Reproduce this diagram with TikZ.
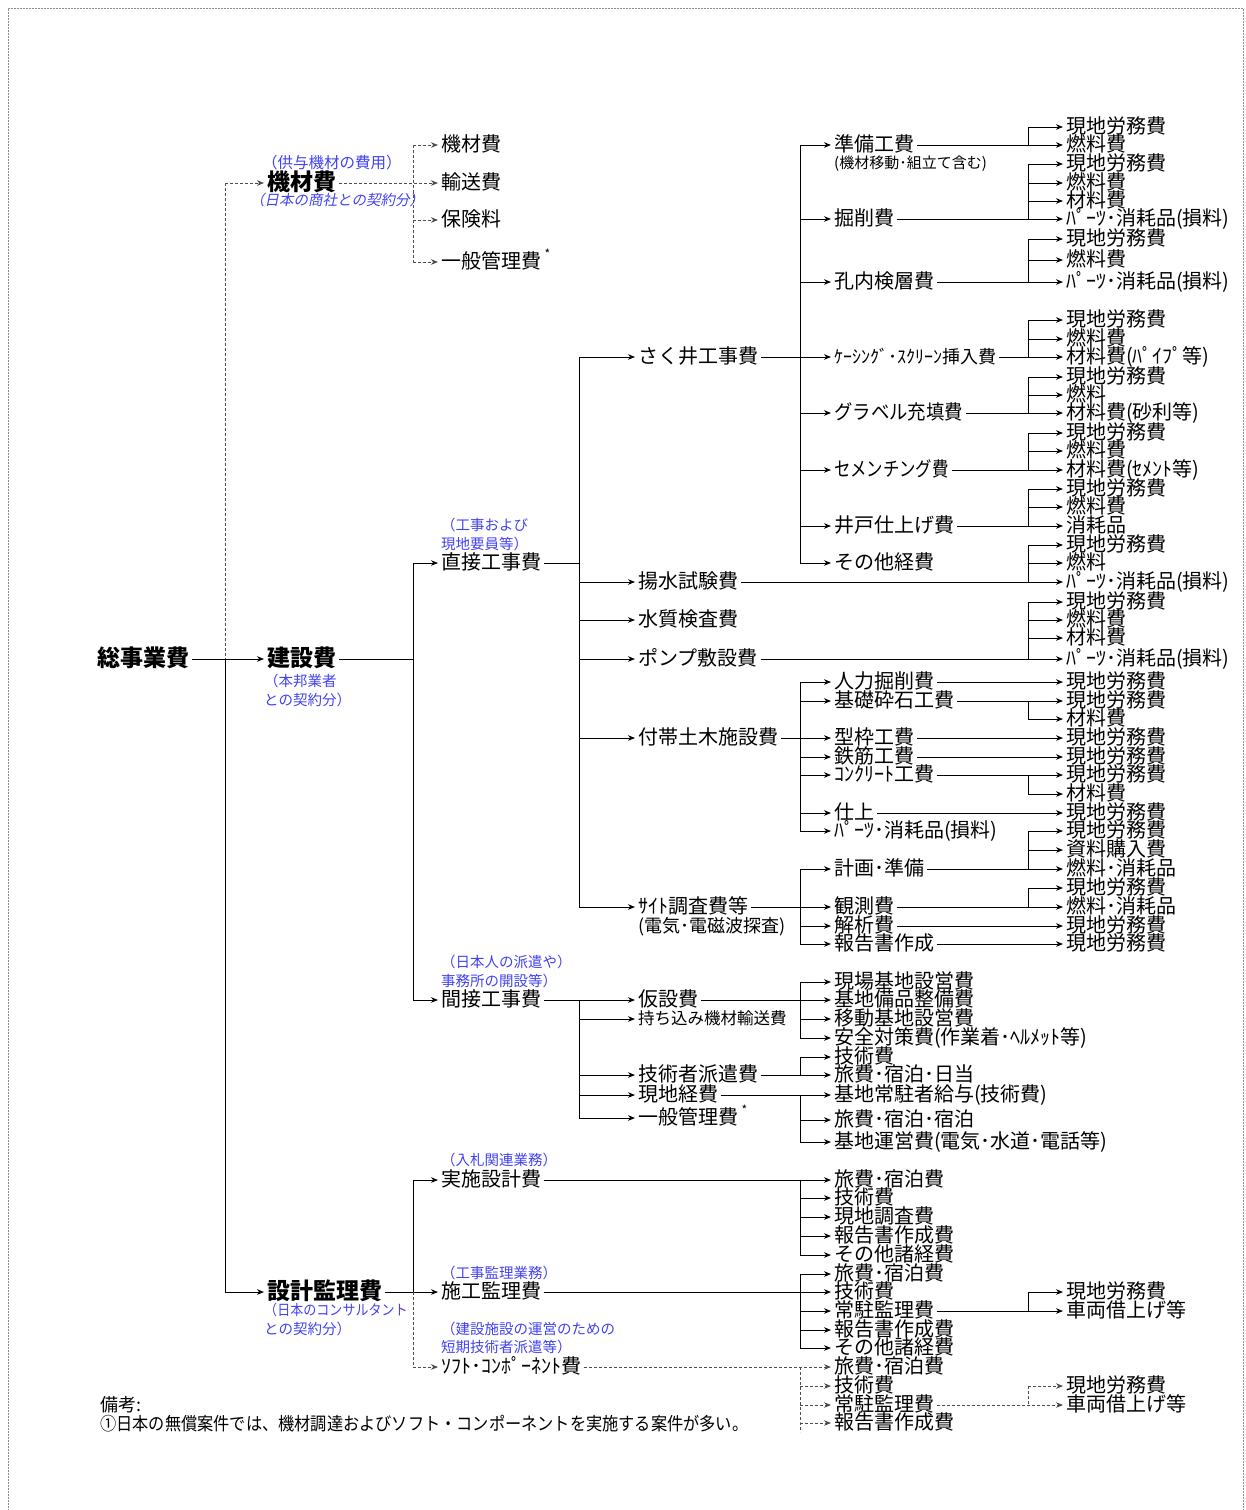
\documentclass[tikz,border=0pt]{standalone}
\usepackage{fontspec}
\setmainfont{Noto Sans CJK JP}
\newfontfamily\slantjp{Noto Sans CJK JP}[FakeSlant=0.2]
\usetikzlibrary{arrows.meta}
\definecolor{bluetxt}{RGB}{66,66,240}
\newcommand\busarrow[3][]{\draw[arr,#1] (#2 |- #3.west) -- (#3.west);}
\newcommand\busline[4][]{\draw[ln,#1] (#2 |- #3.west) -- (#2 |- #4.west);}
\newcommand\astr{\,\raisebox{0.5em}{\fontsize{12}{12}\selectfont *}}
\begin{document}
\begin{tikzpicture}[x=1pt,y=-1pt,
 fsz/.style={font=\fontsize{#1}{#1}\selectfont, text height=0.84*#1pt, text depth=0.16*#1pt},
 base/.style={anchor=west, inner xsep=3pt, inner ysep=0pt, text=black},
 lab/.style={base, fsz=20},
 blab/.style={base, fsz=23, font=\fontsize{23}{23}\selectfont\bfseries, text=black},
 bnote/.style={anchor=west, inner sep=0pt, fsz=14.5, text=bluetxt},
 ln/.style={line width=0.9pt, draw=black},
 arr/.style={ln, -{Stealth[length=7pt,width=5.5pt,inset=2.2pt]}},
 dsh/.style={dash pattern=on 3pt off 2pt, draw=black!70},
]
\useasboundingbox (0,0) rectangle (1245,1510);
\draw[black!45, dash pattern=on 2pt off 1pt, line width=1pt] (8,1520) -- (8,8) -- (1243,8) -- (1243,1520);

\coordinate (A) at (225,0);
\coordinate (B) at (413,0);
\coordinate (C) at (579,0);
\coordinate (D) at (800,0);
\coordinate (E) at (1028,0);

% ---------- level 0 ----------
\node[blab] (total) at (94,659) {総事業費};
\node[blab] (kizai) at (264,183) {機材費};
\node[blab] (kensetsu) at (264,659) {建設費};
\node[blab] (sekkei) at (264,1292) {設計監理費};

% ---------- blue notes ----------
\node[bnote, fsz=15.5] (nk1) at (262,163) {（供与機材の費用）};
\node[bnote, font=\fontsize{14.5}{14.5}\selectfont\slantjp] (nk2) at (250,201) {（日本の商社との契約分）};
\node[bnote] (nc1) at (264,682) {（本邦業者};
\node[bnote] (nc2) at (264,701) {との契約分）};
\node[bnote] (ns1) at (264,1311) {\scalebox{0.9}[1]{（日本のコンサルタント}};
\node[bnote] (ns2) at (264,1330) {との契約分）};
\node[bnote] (nd1) at (441,526) {（工事および};
\node[bnote] (nd2) at (441,545) {現地要員等）};
\node[bnote] (ni1) at (441,963) {（日本人の派遣や）};
\node[bnote] (ni2) at (441,982) {事務所の開設等）};
\node[bnote] (nj1) at (441,1161) {（入札関連業務）};
\node[bnote] (nse1) at (441,1274) {（工事監理業務）};
\node[bnote] (nso1) at (441,1330) {（建設施設の運営のための};
\node[bnote] (nso2) at (441,1348) {短期技術者派遣等）};

% ---------- level 1 ----------
\node[lab] (k1) at (438,145) {機材費};
\node[lab] (k2) at (438,183) {輸送費};
\node[lab] (k3) at (438,220) {保険料};
\node[lab] (k4) at (438,262) {一般管理費\astr};
\node[lab] (direct) at (438,563) {直接工事費};
\node[lab] (indirect) at (438,1000) {間接工事費};
\node[lab] (jisshi) at (438,1180) {実施設計費};
\node[lab] (sekou) at (438,1292) {施工監理費};
\node[lab] (soft) at (438,1367) {ｿﾌﾄ･ｺﾝﾎﾟｰﾈﾝﾄ費};

% ---------- level 2 ----------
\node[lab] (sakui) at (635,357) {さく井工事費};
\node[lab] (yousui) at (635,582) {揚水試験費};
\node[lab] (suishitsu) at (635,620) {水質検査費};
\node[lab] (pump) at (635,659) {ポンプ敷設費};
\node[lab] (futai) at (635,738) {付帯土木施設費};
\node[lab] (site) at (635,907) {ｻｲﾄ調査費等};
\node[base, fsz=18] (sitesub) at (635,926) {(電気･電磁波探査)};
\node[lab] (kasetsu) at (635,1000) {仮設費};
\node[base, fsz=16.5] (mochikomi) at (635,1019) {持ち込み機材輸送費};
\node[lab] (gijutsu) at (635,1075) {技術者派遣費};
\node[lab] (genchi) at (635,1095) {現地経費};
\node[lab] (ippan) at (635,1118) {一般管理費\astr};

% ---------- level 3 ----------
\node[lab] (junbi) at (831,145) {準備工費};
\node[base, fsz=15] (junbisub) at (831,163) {(機材移動･組立て含む)};
\node[lab] (kussaku) at (831,219) {掘削費};
\node[lab] (kounai) at (831,282) {孔内検層費};
\node[base, fsz=18] (casing) at (831,357) {ｹｰｼﾝｸﾞ･ｽｸﾘｰﾝ挿入費};
\node[lab] (gravel) at (831,413) {\scalebox{0.92}[1]{グラベル充填費}};
\node[lab] (cement) at (831,470) {\scalebox{0.82}[1]{セメンチング費}};
\node[lab] (ido) at (831,526) {井戸仕上げ費};
\node[lab] (sonota) at (831,563) {その他経費};

\node[lab] (jinryoku) at (831,682) {人力掘削費};
\node[lab] (kiso) at (831,701) {基礎砕石工費};
\node[lab] (katawaku) at (831,738) {型枠工費};
\node[lab] (tekkin) at (831,757) {鉄筋工費};
\node[lab] (concrete) at (831,775) {ｺﾝｸﾘｰﾄ工費};
\node[lab] (shiage) at (831,813) {仕上};
\node[lab] (parts) at (831,831) {ﾊﾟｰﾂ･消耗品(損料)};

\node[lab] (keikaku) at (831,869) {計画･準備};
\node[lab] (kansoku) at (831,907) {観測費};
\node[lab] (kaiseki) at (831,926) {解析費};
\node[lab] (houkoku) at (831,944) {報告書作成};

\node[lab] (genba) at (831,982) {現場基地設営費};
\node[lab] (bihin) at (831,1000) {基地備品整備費};
\node[lab] (idou) at (831,1019) {移動基地設営費};
\node[lab] (anzen) at (831,1038) {安全対策費(作業着･ﾍﾙﾒｯﾄ等)};
\node[lab] (gijutsuhi) at (831,1057) {技術費};
\node[lab] (ryohi1) at (831,1075) {旅費･宿泊･日当};
\node[lab] (kyuyo) at (831,1095) {基地常駐者給与(技術費)};
\node[lab] (ryohi2) at (831,1120) {旅費･宿泊･宿泊};
\node[lab] (unei) at (831,1142) {基地運営費(電気･水道･電話等)};

\node[lab] (j1) at (831,1180) {旅費･宿泊費};
\node[lab] (j2) at (831,1198) {技術費};
\node[lab] (j3) at (831,1217) {現地調査費};
\node[lab] (j4) at (831,1236) {報告書作成費};
\node[lab] (j5) at (831,1255) {その他諸経費};

\node[lab] (s1) at (831,1274) {旅費･宿泊費};
\node[lab] (s2) at (831,1292) {技術費};
\node[lab] (s3) at (831,1311) {常駐監理費};
\node[lab] (s4) at (831,1330) {報告書作成費};
\node[lab] (s5) at (831,1348) {その他諸経費};

\node[lab] (f1) at (831,1367) {旅費･宿泊費};
\node[lab] (f2) at (831,1386) {技術費};
\node[lab] (f3) at (831,1405) {常駐監理費};
\node[lab] (f4) at (831,1423) {報告書作成費};

% ---------- leaves ----------
\node[lab] (L1) at (1063,127) {現地労務費};
\node[lab] (L2) at (1063,145) {燃料費};
\node[lab] (L3) at (1063,164) {現地労務費};
\node[lab] (L4) at (1063,183) {燃料費};
\node[lab] (L5) at (1063,201) {材料費};
\node[lab] (L6) at (1063,219) {ﾊﾟｰﾂ･消耗品(損料)};
\node[lab] (L7) at (1063,239) {現地労務費};
\node[lab] (L8) at (1063,260) {燃料費};
\node[lab] (L9) at (1063,282) {ﾊﾟｰﾂ･消耗品(損料)};
\node[lab] (L10) at (1063,320) {現地労務費};
\node[lab] (L11) at (1063,339) {燃料費};
\node[lab] (L12) at (1063,357) {材料費(ﾊﾟｲﾌﾟ等)};
\node[lab] (L13) at (1063,377) {現地労務費};
\node[lab] (L14) at (1063,395) {燃料};
\node[lab] (L15) at (1063,413) {材料費(砂利等)};
\node[lab] (L16) at (1063,433) {現地労務費};
\node[lab] (L17) at (1063,451) {燃料費};
\node[lab] (L18) at (1063,470) {材料費(ｾﾒﾝﾄ等)};
\node[lab] (L19) at (1063,489) {現地労務費};
\node[lab] (L20) at (1063,507) {燃料費};
\node[lab] (L21) at (1063,526) {消耗品};
\node[lab] (L22) at (1063,545) {現地労務費};
\node[lab] (L23) at (1063,563) {燃料};
\node[lab] (L24) at (1063,582) {ﾊﾟｰﾂ･消耗品(損料)};
\node[lab] (L25) at (1063,602) {現地労務費};
\node[lab] (L26) at (1063,620) {燃料費};
\node[lab] (L27) at (1063,638) {材料費};
\node[lab] (L28) at (1063,659) {ﾊﾟｰﾂ･消耗品(損料)};
\node[lab] (L29) at (1063,682) {現地労務費};
\node[lab] (L30) at (1063,701) {現地労務費};
\node[lab] (L31) at (1063,719) {材料費};
\node[lab] (L32) at (1063,738) {現地労務費};
\node[lab] (L33) at (1063,757) {現地労務費};
\node[lab] (L34) at (1063,775) {現地労務費};
\node[lab] (L35) at (1063,794) {材料費};
\node[lab] (L36) at (1063,813) {現地労務費};
\node[lab] (L37) at (1063,831) {現地労務費};
\node[lab] (L38) at (1063,850) {資料購入費};
\node[lab] (L39) at (1063,869) {燃料･消耗品};
\node[lab] (L40) at (1063,888) {現地労務費};
\node[lab] (L41) at (1063,907) {燃料･消耗品};
\node[lab] (L42) at (1063,926) {現地労務費};
\node[lab] (L43) at (1063,944) {現地労務費};
\node[lab] (R1) at (1063,1292) {現地労務費};
\node[lab] (R2) at (1063,1311) {車両借上げ等};
\node[lab] (R3) at (1063,1386) {現地労務費};
\node[lab] (R4) at (1063,1405) {車両借上げ等};

% ---------- remarks ----------
\node[base, fsz=18, inner xsep=0pt] (biko) at (100,1405) {備考:};
\node[base, fsz=18, inner xsep=0pt] (note1) at (100,1424) {\scalebox{0.9}[1]{①日本の無償案件では、機材調達およびソフト・コンポーネントを実施する案件が多い。}};

% ---------- connectors: level 0 ----------
\draw[arr] (total.east) -- (kensetsu.west);
\draw[ln,dsh] (A |- kizai.west) -- (A |- kensetsu.west);
\draw[ln] (A |- kensetsu.west) -- (A |- sekkei.west);
\draw[arr,dsh] (A |- kizai.west) -- (kizai.west);
\draw[arr] (A |- sekkei.west) -- (sekkei.west);

% kizai
\draw[arr,dsh] (kizai.east) -- (k2.west);
\busline[dsh]{B}{k1}{k4}
\busarrow[dsh]{B}{k1}
\busarrow[dsh]{B}{k3}
\busarrow[dsh]{B}{k4}

% kensetsu
\draw[ln] (kensetsu.east) -- (B |- kensetsu.east);
\busline{B}{direct}{indirect}
\busarrow{B}{direct}
\busarrow{B}{indirect}

% sekkei
\draw[arr] (sekkei.east) -- (sekou.west);
\busline{B}{jisshi}{sekou}
\busline[dsh]{B}{sekou}{soft}
\busarrow{B}{jisshi}
\busarrow[dsh]{B}{soft}

% direct
\draw[ln] (direct.east) -- (C |- direct.east);
\busline{C}{sakui}{site}
\busarrow{C}{sakui}
\busarrow{C}{yousui}
\busarrow{C}{suishitsu}
\busarrow{C}{pump}
\busarrow{C}{futai}
\busarrow{C}{site}

% indirect
\draw[arr] (indirect.east) -- (kasetsu.west);
\busline{C}{kasetsu}{ippan}
\busarrow{C}{mochikomi}
\busarrow{C}{gijutsu}
\busarrow{C}{genchi}
\busarrow{C}{ippan}

% sakui
\draw[arr] (sakui.east) -- (casing.west);
\busline{D}{junbi}{sonota}
\busarrow{D}{junbi}
\busarrow{D}{kussaku}
\busarrow{D}{kounai}
\busarrow{D}{gravel}
\busarrow{D}{cement}
\busarrow{D}{ido}
\busarrow{D}{sonota}

% yousui, pump
\draw[arr] (yousui.east) -- (L24.west);
\busline{E}{L22}{L24}
\busarrow{E}{L22}
\busarrow{E}{L23}
\draw[arr] (pump.east) -- (L28.west);
\busline{E}{L25}{L28}
\busarrow{E}{L25}
\busarrow{E}{L26}
\busarrow{E}{L27}

% futai
\draw[arr] (futai.east) -- (katawaku.west);
\busline{D}{jinryoku}{parts}
\busarrow{D}{jinryoku}
\busarrow{D}{kiso}
\busarrow{D}{tekkin}
\busarrow{D}{concrete}
\busarrow{D}{shiage}
\busarrow{D}{parts}

% site
\draw[arr] (site.east) -- (kansoku.west);
\busline{D}{keikaku}{houkoku}
\busarrow{D}{keikaku}
\busarrow{D}{kaiseki}
\busarrow{D}{houkoku}

% kasetsu, gijutsu, genchi
\draw[arr] (kasetsu.east) -- (bihin.west);
\busline{D}{genba}{anzen}
\busarrow{D}{genba}
\busarrow{D}{idou}
\busarrow{D}{anzen}
\draw[arr] (gijutsu.east) -- (ryohi1.west);
\busline{D}{gijutsuhi}{ryohi1}
\busarrow{D}{gijutsuhi}
\draw[arr] (genchi.east) -- (kyuyo.west);
\busline{D}{kyuyo}{unei}
\busarrow{D}{ryohi2}
\busarrow{D}{unei}

% jisshi, sekou, soft
\draw[arr] (jisshi.east) -- (j1.west);
\busline{D}{j1}{j5}
\busarrow{D}{j2}
\busarrow{D}{j3}
\busarrow{D}{j4}
\busarrow{D}{j5}
\draw[arr] (sekou.east) -- (s2.west);
\busline{D}{s1}{s5}
\busarrow{D}{s1}
\busarrow{D}{s3}
\busarrow{D}{s4}
\busarrow{D}{s5}
\draw[arr,dsh] (soft.east) -- (f1.west);
\draw[ln,dsh] (D |- f1.west) -- (D |- f4.west) -- ++(0,9);
\busarrow[dsh]{D}{f2}
\busarrow[dsh]{D}{f3}
\busarrow[dsh]{D}{f4}

% leaves of level 3
\draw[arr] (junbi.east) -- (L2.west);
\busline{E}{L1}{L2}
\busarrow{E}{L1}
\draw[arr] (kussaku.east) -- (L6.west);
\busline{E}{L3}{L6}
\busarrow{E}{L3}
\busarrow{E}{L4}
\busarrow{E}{L5}
\draw[arr] (kounai.east) -- (L9.west);
\busline{E}{L7}{L9}
\busarrow{E}{L7}
\busarrow{E}{L8}
\draw[arr] (casing.east) -- (L12.west);
\busline{E}{L10}{L12}
\busarrow{E}{L10}
\busarrow{E}{L11}
\draw[arr] (gravel.east) -- (L15.west);
\busline{E}{L13}{L15}
\busarrow{E}{L13}
\busarrow{E}{L14}
\draw[arr] (cement.east) -- (L18.west);
\busline{E}{L16}{L18}
\busarrow{E}{L16}
\busarrow{E}{L17}
\draw[arr] (ido.east) -- (L21.west);
\busline{E}{L19}{L21}
\busarrow{E}{L19}
\busarrow{E}{L20}

\draw[arr] (jinryoku.east) -- (L29.west);
\draw[arr] (kiso.east) -- (L30.west);
\busline{E}{L30}{L31}
\busarrow{E}{L31}
\draw[arr] (katawaku.east) -- (L32.west);
\draw[arr] (tekkin.east) -- (L33.west);
\draw[arr] (concrete.east) -- (L34.west);
\busline{E}{L34}{L35}
\busarrow{E}{L35}
\draw[arr] (shiage.east) -- (L36.west);

\draw[arr] (keikaku.east) -- (L39.west);
\busline{E}{L37}{L39}
\busarrow{E}{L37}
\busarrow{E}{L38}
\draw[arr] (kansoku.east) -- (L41.west);
\busline{E}{L40}{L41}
\busarrow{E}{L40}
\draw[arr] (kaiseki.east) -- (L42.west);
\draw[arr] (houkoku.east) -- (L43.west);

\draw[arr] (s3.east) -- (R2.west);
\busline{E}{R1}{R2}
\busarrow{E}{R1}
\draw[arr,dsh] (f3.east) -- (R4.west);
\busline[dsh]{E}{R3}{R4}
\busarrow[dsh]{E}{R3}
\end{tikzpicture}
\end{document}
